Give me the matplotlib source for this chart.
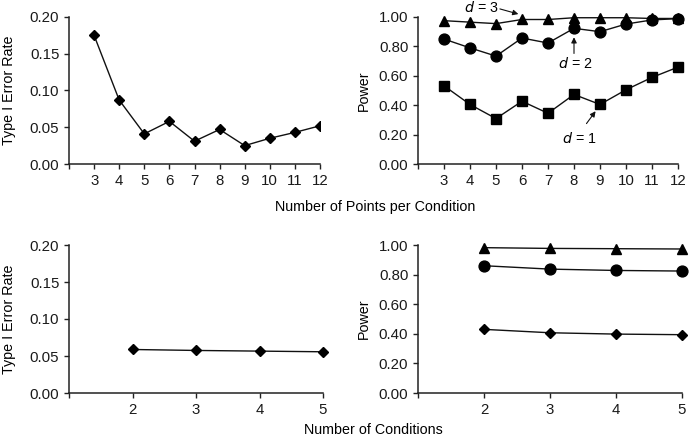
import matplotlib
matplotlib.use("Agg")
import matplotlib.pyplot as plt

plt.rcParams['font.family'] = ['Liberation Sans', 'DejaVu Sans']
plt.rcParams['font.size'] = 11

# Data: top row (points per condition)
points = [3, 4, 5, 6, 7, 8, 9, 10, 11, 12]
type1_points = [0.175, 0.087, 0.041, 0.058, 0.031, 0.047, 0.025, 0.035, 0.043, 0.052]
power_d3_points = [0.975, 0.965, 0.955, 0.983, 0.983, 0.995, 0.995, 0.995, 0.99, 0.99]
power_d2_points = [0.85, 0.79, 0.734, 0.857, 0.823, 0.923, 0.90, 0.952, 0.98, 0.989]
power_d1_points = [0.532, 0.405, 0.309, 0.427, 0.345, 0.473, 0.405, 0.505, 0.589, 0.659]

# Data: bottom row (number of conditions)
conditions = [2, 3, 4, 5]
type1_conditions = [0.0588, 0.0575, 0.0566, 0.0557]
power_d3_conditions = [0.982, 0.977, 0.975, 0.973]
power_d2_conditions = [0.86, 0.837, 0.828, 0.824]
power_d1_conditions = [0.43, 0.407, 0.398, 0.394]

W, H = 691, 436
fig = plt.figure(figsize=(W / 100, H / 100), dpi=100)

def px_axes(left, right, top, bottom):
    return fig.add_axes([left / W, (H - bottom) / H, (right - left) / W, (bottom - top) / H])

ax_tl = px_axes(69, 320, 17, 164)
ax_tr = px_axes(418, 678, 17, 164)
ax_bl = px_axes(69, 323, 245, 393)
ax_br = px_axes(418, 682, 245, 393)

LABEL_FS = 10.3
TICK_FS = 10.8

def style(ax):
    for s in ['top', 'right']:
        ax.spines[s].set_visible(False)
    for s in ['left', 'bottom']:
        ax.spines[s].set_linewidth(1.1)
        ax.spines[s].set_color('#222222')
    ax.tick_params(direction='out', length=3.5, width=1.0, colors='#222222',
                   labelsize=TICK_FS, labelcolor='#1a1a1a')

def ylabel_at(ax, text, xpx, left, width):
    ax.set_ylabel(text, fontsize=LABEL_FS)
    ax.yaxis.label.set_verticalalignment('center')
    ax.yaxis.set_label_coords((xpx - left) / width, 0.5)

lc = '#111111'
lw = 1.0

# Top-left
ax = ax_tl
ax.plot(points, type1_points, color=lc, lw=lw, marker='D', ms=5.5, mfc='black', mec='black')
ax.set_xlim(2, 12)
ax.set_ylim(0, 0.20)
ax.set_xticks(range(2, 13))
ax.set_xticklabels([''] + [str(p) for p in points])
ax.set_yticks([0, 0.05, 0.10, 0.15, 0.20])
ax.set_yticklabels(['0.00', '0.05', '0.10', '0.15', '0.20'])
style(ax)
ylabel_at(ax, 'Type I Error Rate', 9, 69, 251)

# Top-right
ax = ax_tr
ax.plot(points, power_d3_points, color=lc, lw=lw, marker='^', ms=6.8, mfc='black', mec='black', clip_on=False)
ax.plot(points, power_d2_points, color=lc, lw=lw, marker='o', ms=7.8, mfc='black', mec='black', clip_on=False)
ax.plot(points, power_d1_points, color=lc, lw=lw, marker='s', ms=6.8, mfc='black', mec='black', clip_on=False)
ax.set_xlim(2, 12)
ax.set_ylim(0, 1.0)
ax.set_xticks(range(2, 13))
ax.set_xticklabels([''] + [str(p) for p in points])
ax.set_yticks([0, 0.2, 0.4, 0.6, 0.8, 1.0])
ax.set_yticklabels(['0.00', '0.20', '0.40', '0.60', '0.80', '1.00'])
style(ax)
ylabel_at(ax, 'Power', 364, 418, 260)

arrowprops = dict(arrowstyle='-|>', color='#111111', lw=0.8, mutation_scale=8, shrinkA=0, shrinkB=0)
ax.text(4.45, 1.068, '$d$ = 3', ha='center', va='center', fontsize=LABEL_FS, clip_on=False)
ax.annotate('', xy=(5.86, 1.02), xytext=(5.15, 1.055), arrowprops=arrowprops, annotation_clip=False)
ax.text(8.03, 0.684, '$d$ = 2', ha='center', va='center', fontsize=LABEL_FS)
ax.annotate('', xy=(8.0, 0.862), xytext=(8.0, 0.752), arrowprops=arrowprops, annotation_clip=False)
ax.text(8.22, 0.173, '$d$ = 1', ha='center', va='center', fontsize=LABEL_FS)
ax.annotate('', xy=(8.83, 0.359), xytext=(8.48, 0.275), arrowprops=arrowprops, annotation_clip=False)

# Bottom-left
ax = ax_bl
ax.plot(conditions, type1_conditions, color=lc, lw=lw, marker='D', ms=5.5, mfc='black', mec='black', clip_on=False)
ax.set_xlim(1, 5)
ax.set_ylim(0, 0.20)
ax.set_xticks(range(1, 6))
ax.set_xticklabels([''] + [str(c) for c in conditions])
ax.set_yticks([0, 0.05, 0.10, 0.15, 0.20])
ax.set_yticklabels(['0.00', '0.05', '0.10', '0.15', '0.20'])
style(ax)
ylabel_at(ax, 'Type I Error Rate', 9, 69, 254)

# Bottom-right
ax = ax_br
ax.plot(conditions, power_d3_conditions, color=lc, lw=lw, marker='^', ms=6.8, mfc='black', mec='black', clip_on=False)
ax.plot(conditions, power_d2_conditions, color=lc, lw=lw, marker='o', ms=7.8, mfc='black', mec='black', clip_on=False)
ax.plot(conditions, power_d1_conditions, color=lc, lw=lw, marker='D', ms=5.5, mfc='black', mec='black', clip_on=False)
ax.set_xlim(1, 5)
ax.set_ylim(0, 1.0)
ax.set_xticks(range(1, 6))
ax.set_xticklabels([''] + [str(c) for c in conditions])
ax.set_yticks([0, 0.2, 0.4, 0.6, 0.8, 1.0])
ax.set_yticklabels(['0.00', '0.20', '0.40', '0.60', '0.80', '1.00'])
style(ax)
ylabel_at(ax, 'Power', 364, 418, 264)

fig.text(375 / W, 1 - 207 / H, 'Number of Points per Condition', ha='center', va='center', fontsize=LABEL_FS)
fig.text(373 / W, 1 - 430 / H, 'Number of Conditions', ha='center', va='center', fontsize=LABEL_FS)

fig.savefig('out.png', dpi=100)
